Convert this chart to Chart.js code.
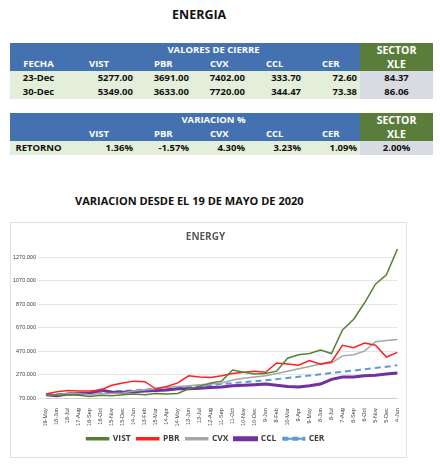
<!DOCTYPE html>
<html><head><meta charset="utf-8">
<script src="https://cdn.jsdelivr.net/npm/chart.js@4"></script>
<style>
body{margin:0;background:#fff;font-family:"Open Sans",sans-serif;width:440px;height:466px;position:relative;overflow:hidden}
.t{position:absolute;font-weight:bold;color:#111}
table{position:absolute;left:10px;border-collapse:collapse;font-size:9.5px;font-weight:bold;table-layout:fixed}
td{height:14px;padding:0 3px;white-space:nowrap;line-height:14px}
.b{background:#4472b0;color:#fff}
.g{background:#5a7d3c;color:#fff;text-align:center;font-size:10.5px}
.d{background:#e3efda;color:#111;text-align:right}
.x{background:#d9dbe3;color:#111;text-align:center}
#box{position:absolute;left:10px;top:222px;width:395px;height:234px;border:1px solid #e0e0e0}
</style></head><body>
<div class="t" style="left:172px;top:6px;font-size:12.5px">ENERGIA</div>
<table style="top:43px;width:423px">
<colgroup><col style="width:57px"><col style="width:69px"><col style="width:56px"><col style="width:56px"><col style="width:56px"><col style="width:56px"><col style="width:73px"></colgroup>
<tr><td class="b"></td><td class="b" colspan="5" style="text-align:center">VALORES DE CIERRE</td><td class="g">SECTOR</td></tr>
<tr><td class="b" style="text-align:center">FECHA</td><td class="b" style="padding-left:22px">VIST</td><td class="b" style="padding-left:18px">PBR</td><td class="b" style="padding-left:18px">CVX</td><td class="b" style="padding-left:18px">CCL</td><td class="b" style="padding-left:18px">CER</td><td class="g">XLE</td></tr>
<tr><td class="d" style="text-align:center">23-Dec</td><td class="d">5277.00</td><td class="d">3691.00</td><td class="d">7402.00</td><td class="d">333.70</td><td class="d">72.60</td><td class="x">84.37</td></tr>
<tr><td class="d" style="text-align:center">30-Dec</td><td class="d">5349.00</td><td class="d">3633.00</td><td class="d">7720.00</td><td class="d">344.47</td><td class="d">73.38</td><td class="x">86.06</td></tr>
<tr><td></td><td></td><td></td><td></td><td></td><td></td><td></td></tr>
<tr><td class="b"></td><td class="b" colspan="5" style="text-align:center">VARIACION %</td><td class="g">SECTOR</td></tr>
<tr><td class="b"></td><td class="b" style="padding-left:22px">VIST</td><td class="b" style="padding-left:18px">PBR</td><td class="b" style="padding-left:18px">CVX</td><td class="b" style="padding-left:18px">CCL</td><td class="b" style="padding-left:18px">CER</td><td class="g">XLE</td></tr>
<tr><td class="d" style="text-align:center">RETORNO</td><td class="d">1.36%</td><td class="d">-1.57%</td><td class="d">4.30%</td><td class="d">3.23%</td><td class="d">1.09%</td><td class="x">2.00%</td></tr>
</table>
<div class="t" style="left:75px;top:193px;font-size:11px">VARIACION DESDE EL 19 DE MAYO DE 2020</div>
<div id="box"><canvas id="c" width="395" height="234"></canvas></div>
<script>
const labels=["19-May","18-Jun","18-Jul","17-Aug","16-Sep","16-Oct","15-Nov","15-Dec","14-Jan","13-Feb","15-Mar","14-Apr","14-May","13-Jun","13-Jul","12-Aug","11-Sep","11-Oct","10-Nov","10-Dec","9-Jan","8-Feb","10-Mar","9-Apr","9-May","8-Jun","8-Jul","7-Aug","6-Sep","6-Oct","5-Nov","5-Dec","4-Jan"];
const vist=[100,95,100,95,85,95,90,100,105,100,110,105,110,150,170,200,215,310,290,275,280,300,410,440,450,480,450,650,740,880,1040,1120,1340];
const pbr=[105,125,135,130,130,140,180,200,215,210,150,170,200,260,250,245,260,280,290,300,290,370,360,350,390,360,380,520,500,540,520,420,460];
const cvx=[100,95,110,110,100,110,110,115,130,140,150,160,170,175,185,190,200,225,240,250,260,280,300,320,340,360,370,430,440,470,550,560,570];
const ccl=[100,90,105,110,110,140,120,120,125,130,135,140,150,150,155,160,165,175,180,185,190,180,170,165,175,190,230,250,250,260,265,275,285];
const cer=[100,104,108,112,117,122,127,132,137,143,150,156,162,168,175,182,190,198,206,214,222,232,242,252,262,273,284,295,305,315,327,338,350];
const yTicks=[70,270,470,670,870,1070,1270];
const ds=(l,d,c,w,dash)=>({label:l,data:d,borderColor:c,backgroundColor:c,borderWidth:w,borderDash:dash||[],pointRadius:0,tension:0});
new Chart(document.getElementById('c'),{type:'line',
data:{labels,datasets:[ds('VIST',vist,'#548235',1.5),ds('PBR',pbr,'#ff2020',1.5),ds('CVX',cvx,'#a6a6a6',1.5),ds('CCL',ccl,'#7030a0',3),ds('CER',cer,'#5b9bd5',2,[6,4])]},
options:{responsive:false,animation:false,layout:{padding:{left:0,right:6,top:0,bottom:4}},
plugins:{title:{display:true,text:'ENERGY',color:'#595959',font:{size:10,weight:'bold',family:'Open Sans'},padding:{top:8,bottom:6}},
legend:{position:'bottom',labels:{boxWidth:22,boxHeight:2,color:'#404040',font:{size:8.5,weight:'bold',family:'Open Sans'},padding:6}}},
scales:{x:{grid:{display:false},ticks:{autoSkip:false,maxRotation:90,minRotation:90,font:{size:5.5},color:'#404040',padding:2}},
y:{min:70,max:1340,afterBuildTicks:a=>{a.ticks=yTicks.map(v=>({value:v}))},grid:{color:'#e5e5e5'},border:{display:false},ticks:{font:{size:5.5},color:'#404040',padding:2,callback:v=>v.toFixed(3)}}}}});
</script></body></html>
